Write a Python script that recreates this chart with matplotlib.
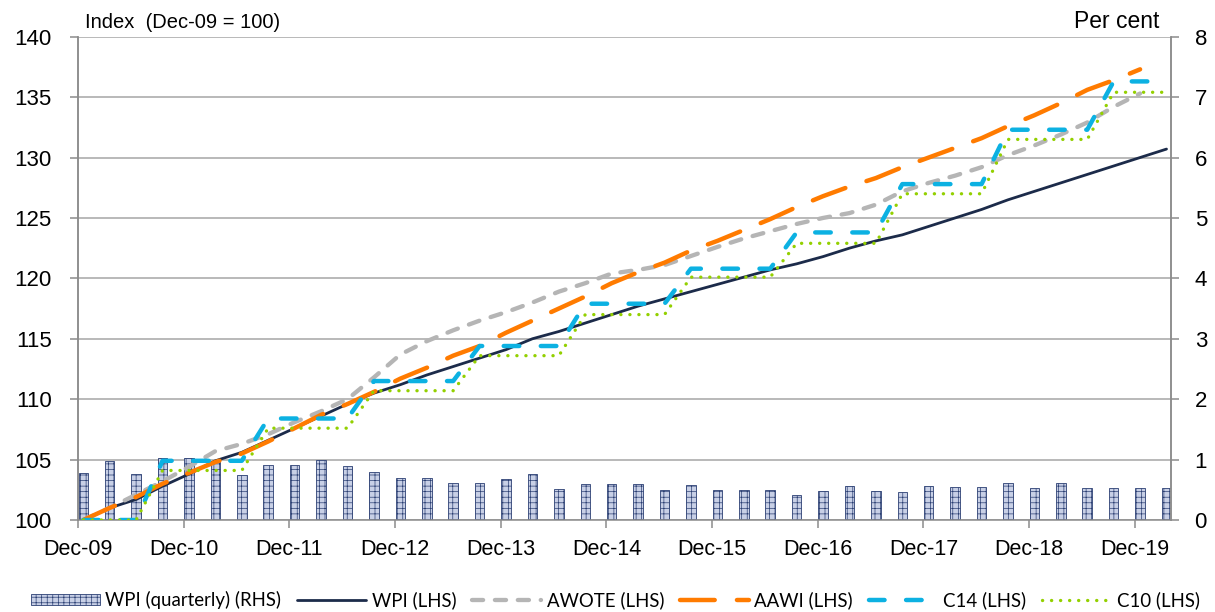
import matplotlib
matplotlib.use('Agg')
import matplotlib.pyplot as plt
from matplotlib.patches import Patch
from matplotlib.lines import Line2D
import numpy as np

# ---------------- data ----------------
year_labels = ['Dec-09', 'Dec-10', 'Dec-11', 'Dec-12', 'Dec-13', 'Dec-14',
               'Dec-15', 'Dec-16', 'Dec-17', 'Dec-18', 'Dec-19']

# quarterly WPI growth, per cent (RHS), Dec-09 .. Mar-20
wpi_qtr = [0.77, 0.97, 0.76, 1.03, 1.02, 0.98, 0.74, 0.91, 0.91, 0.99,
           0.89, 0.79, 0.70, 0.70, 0.61, 0.61, 0.675, 0.76, 0.51, 0.59,
           0.59, 0.59, 0.49, 0.58, 0.49, 0.49, 0.49, 0.41, 0.48, 0.56,
           0.48, 0.46, 0.56, 0.54, 0.54, 0.61, 0.53, 0.61, 0.53, 0.53,
           0.53, 0.53]

# indexes (LHS), Dec-09 = 100
wpi_index = [100.0, 101.0, 101.7, 102.8, 103.8, 104.9, 105.6, 106.6, 107.6, 108.6,
             109.6, 110.5, 111.2, 112.0, 112.7, 113.4, 114.1, 115.0, 115.6, 116.3,
             117.0, 117.7, 118.3, 118.9, 119.5, 120.1, 120.7, 121.2, 121.8, 122.5,
             123.1, 123.6, 124.3, 125.0, 125.7, 126.5, 127.2, 127.9, 128.6, 129.3,
             130.0, 130.7]

awote = [100.0, 101.0, 102.1, 103.2, 104.4, 105.7, 106.3, 107.1, 108.1, 109.0,
         110.0, 111.8, 113.7, 114.8, 115.7, 116.5, 117.2, 118.0, 118.9, 119.6,
         120.4, 120.7, 121.1, 121.85, 122.6, 123.3, 123.9, 124.5, 125.0, 125.4,
         126.1, 127.2, 127.9, 128.5, 129.2, 130.2, 131.0, 131.9, 132.9, 134.2,
         135.3]

aawi = [100.0, 101.0, 101.9, 103.0, 103.9, 104.8, 105.5, 106.5, 107.6, 108.7,
        109.6, 110.6, 111.7, 112.6, 113.6, 114.4, 115.5, 116.5, 117.5, 118.5,
        119.6, 120.5, 121.3, 122.3, 123.1, 124.0, 124.9, 125.9, 126.8, 127.6,
        128.3, 129.2, 130.0, 130.8, 131.6, 132.6, 133.5, 134.5, 135.6, 136.4,
        137.3]

c14 = [100.0, 100.0, 100.0, 104.9, 104.9, 104.9, 104.9, 108.4, 108.4, 108.4,
       108.4, 111.5, 111.5, 111.5, 111.5, 114.4, 114.4, 114.4, 114.4, 117.9,
       117.9, 117.9, 117.9, 120.8, 120.8, 120.8, 120.8, 123.8, 123.8, 123.8,
       123.8, 127.8, 127.8, 127.8, 127.8, 132.3, 132.3, 132.3, 132.3, 136.3,
       136.3, 136.3]

c10 = [100.0, 100.0, 100.0, 104.1, 104.1, 104.1, 104.1, 107.6, 107.6, 107.6,
       107.6, 110.7, 110.7, 110.7, 110.7, 113.6, 113.6, 113.6, 113.6, 117.0,
       117.0, 117.0, 117.0, 120.1, 120.1, 120.1, 120.1, 122.9, 122.9, 122.9,
       122.9, 127.0, 127.0, 127.0, 127.0, 131.5, 131.5, 131.5, 131.5, 135.4,
       135.4, 135.4]

legend_labels = ['WPI (quarterly) (RHS)', 'WPI (LHS)', 'AWOTE (LHS)',
                 'AAWI (LHS)', 'C14 (LHS)', 'C10 (LHS)']

# ---------------- style ----------------
plt.rcParams['font.family'] = ['Liberation Sans', 'DejaVu Sans']
plt.rcParams['lines.scale_dashes'] = False
plt.rcParams['hatch.linewidth'] = 0.5
plt.rcParams['hatch.color'] = '#3c5592'

C_NAVY = '#1c2b4a'
C_GREY = '#b5b5b5'
C_ORANGE = '#ff7b00'
C_BLUE = '#0cb1e2'
C_GREEN = '#93d000'
C_BARFACE = '#c8d0e6'
C_BAREDGE = '#2b3f73'
C_AXIS = '#8c8c8c'
C_GRID = '#a6a6a6'

W, H = 1215, 612
fig = plt.figure(figsize=(W / 100, H / 100), dpi=100)
L, R, T, B = 78, 1171, 36.7, 520
axb = fig.add_axes([L / W, 1 - B / H, (R - L) / W, (B - T) / H])

x_off = 0.2
xq = np.arange(len(wpi_qtr)) + x_off

# bars on the per-cent scale (drawn first, below the lines)
axb.bar(xq, wpi_qtr, width=0.36, facecolor=C_BARFACE, edgecolor=C_BAREDGE,
        hatch='+++', linewidth=0.6, zorder=2)
axb.set_ylim(0, 8)
axb.set_xlim(0, 41.37)
axb.set_yticks(range(0, 9))
axb.grid(axis='y', color=C_GRID, lw=1.1, zorder=0)
axb.set_axisbelow(True)
axb.set_xticks(np.arange(0, 41, 4))
axb.set_xticklabels(year_labels)

# lines on the index scale
axl = axb.twinx()
axb.yaxis.tick_right()
axb.yaxis.set_label_position('right')
axl.yaxis.tick_left()
axl.yaxis.set_label_position('left')
axl.set_ylim(100, 140)
axl.set_yticks(range(100, 141, 5))

axb.tick_params(axis='x', direction='out', length=6, width=1.1, color=C_AXIS,
                labelsize=15.5, pad=8)
axb.tick_params(axis='y', direction='out', length=6, width=1.1, color=C_AXIS,
                labelsize=16, pad=11)
axl.tick_params(axis='y', direction='out', length=6, width=1.1, color=C_AXIS,
                labelsize=16, pad=13)

for a in (axb, axl):
    for s in a.spines.values():
        s.set_color(C_AXIS)
        s.set_linewidth(1.1)
        s.set_visible(True)
    a.spines['top'].set_visible(False)
axl.spines['bottom'].set_visible(False)

styles = [
    dict(color=C_NAVY, lw=2.0, solid_capstyle='round'),
    dict(color=C_GREY, lw=3.1, dashes=(8, 8.5), dash_capstyle='round'),
    dict(color=C_ORANGE, lw=3.2, dashes=(25, 16), dash_capstyle='round'),
    dict(color=C_BLUE, lw=3.2, dashes=(11.2, 15.5), dash_capstyle='round'),
    dict(color=C_GREEN, lw=2.4, dashes=(0.1, 6.4), dash_capstyle='round'),
]
series = [wpi_index, awote, aawi, c14, c10]
for vals, st in zip(series, styles):
    xs = np.arange(len(vals)) + x_off
    axl.plot(xs, vals, **st)

# titles
fig.text(85 / W, 1 - 22 / H, 'Index  (Dec-09 = 100)', fontsize=14.5,
         ha='left', va='center')
fig.text(1159 / W, 1 - 21 / H, 'Per cent', fontsize=16.5,
         ha='right', va='center')

# legend
handles = [Patch(facecolor=C_BARFACE, edgecolor=C_BAREDGE, hatch='+++', linewidth=0.6)]
for st in styles:
    handles.append(Line2D([0], [0], **st))
fig.legend(handles, legend_labels, loc='center left',
           bbox_to_anchor=(18 / W, 1 - 600 / H), ncol=6, frameon=False,
           prop=dict(family=['Lato', 'DejaVu Sans'], size=13.4),
           handlelength=3.7, handletextpad=0.3, columnspacing=0.85,
           handleheight=0.6, borderpad=0.2)

fig.savefig('out.png', dpi=100)
